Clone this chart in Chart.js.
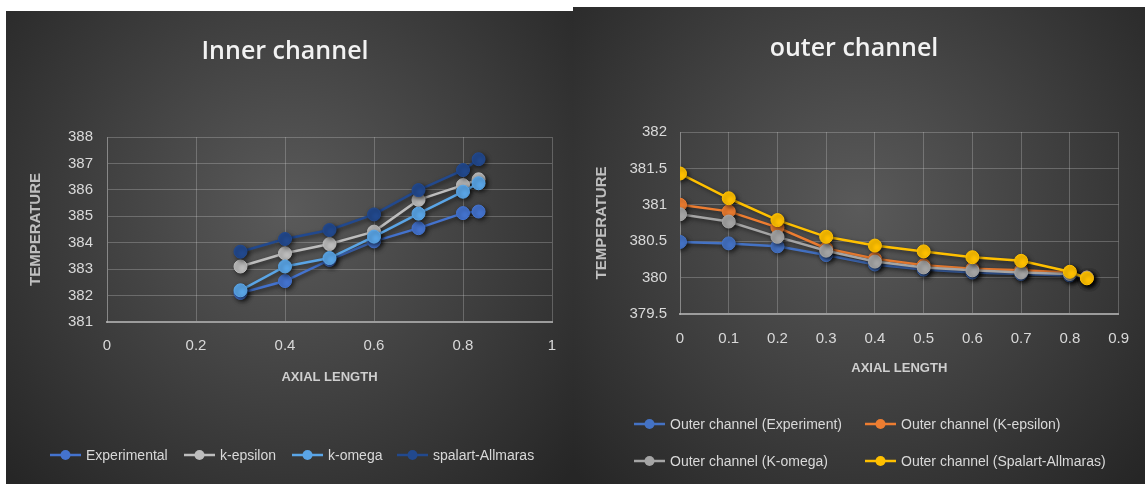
<!DOCTYPE html>
<html>
<head>
<meta charset="utf-8">
<script src="https://cdn.jsdelivr.net/npm/chart.js@4/dist/chart.umd.min.js"></script>
<style>
  body { margin: 0; background: #fff; width: 1145px; height: 484px; position: relative; overflow: hidden; }
  .panel { position: absolute; }
  #innerBox { left: 6px; top: 11px; width: 567px; height: 473px; }
  #outerBox { left: 573px; top: 7px; width: 572px; height: 477px; }
</style>
</head>
<body>
<div class="panel" id="innerBox"><canvas id="innerChart"></canvas></div>
<div class="panel" id="outerBox"><canvas id="outerChart"></canvas></div>
<script>
// inner channel
const innerX = [0.3, 0.4, 0.5, 0.6, 0.7, 0.8, 0.835];
const innerExperimental = [382.1, 382.55, 383.35, 384.05, 384.55, 385.12, 385.18];
const innerKEpsilon = [383.1, 383.6, 383.95, 384.42, 385.62, 386.18, 386.4];
const innerKOmega = [382.2, 383.1, 383.42, 384.23, 385.1, 385.93, 386.25];
const innerSpalart = [383.66, 384.14, 384.48, 385.07, 385.99, 386.75, 387.16];

// outer channel
const outerX = [0, 0.1, 0.2, 0.3, 0.4, 0.5, 0.6, 0.7, 0.8, 0.835];
const outerExperiment = [380.49, 380.47, 380.43, 380.31, 380.18, 380.11, 380.07, 380.05, 380.03, 380.0];
const outerKEpsilon = [381.0, 380.91, 380.69, 380.4, 380.26, 380.17, 380.12, 380.1, 380.07, 380.0];
const outerKOmega = [380.87, 380.77, 380.56, 380.37, 380.22, 380.14, 380.1, 380.07, 380.05, 380.0];
const outerSpalart = [381.43, 381.09, 380.79, 380.56, 380.44, 380.36, 380.28, 380.23, 380.08, 379.99];

const FONT = "'Liberation Sans', sans-serif";

function pts(xs, ys) {
  return xs.map((x, i) => ({ x: x, y: ys[i] }));
}

function makeSet(label, xs, ys, color, idx, total) {
  return {
    label: label,
    data: pts(xs, ys),
    borderColor: color,
    backgroundColor: color,
    borderWidth: 2.5,
    pointRadius: 6.5,
    pointBorderWidth: 1,
    pointBorderColor: color,
    order: total - idx, // later series on top, like the original
    tension: 0
  };
}

const bgPlugin = {
  id: 'bgGradient',
  beforeDraw(chart) {
    const { ctx, width, height } = chart;
    const g = ctx.createRadialGradient(width * 0.5, height * 0.42, 0, width * 0.5, height * 0.42, width * 0.68);
    g.addColorStop(0, '#5a5a5a');
    g.addColorStop(1, '#262626');
    ctx.save();
    ctx.fillStyle = g;
    ctx.fillRect(0, 0, width, height);
    ctx.restore();
  }
};

const shadowPlugin = {
  id: 'markShadow',
  beforeDatasetsDraw(chart) {
    const ctx = chart.ctx;
    ctx.save();
    ctx.shadowColor = 'rgba(0,0,0,0.55)';
    ctx.shadowBlur = 4;
    ctx.shadowOffsetX = 2;
    ctx.shadowOffsetY = 2;
  },
  afterDatasetsDraw(chart) {
    chart.ctx.restore();
  }
};

// excel-like legend: line + dot, fixed columns
const legendPlugin = {
  id: 'boxLegend',
  afterDraw(chart, args, opts) {
    const ctx = chart.ctx;
    ctx.save();
    ctx.font = opts.font;
    ctx.textBaseline = 'middle';
    chart.data.datasets.forEach((ds, i) => {
      const x = opts.cols[i % opts.cols.length];
      const y = opts.rows[Math.floor(i / opts.cols.length)];
      ctx.strokeStyle = ds.borderColor;
      ctx.lineWidth = 2.5;
      ctx.beginPath();
      ctx.moveTo(x, y);
      ctx.lineTo(x + 31, y);
      ctx.stroke();
      ctx.fillStyle = ds.borderColor;
      ctx.beginPath();
      ctx.arc(x + 15.5, y, 5, 0, Math.PI * 2);
      ctx.fill();
      ctx.fillStyle = opts.color;
      ctx.fillText(ds.label, x + 36, y + 1);
    });
    ctx.restore();
  }
};

function chartOptions(cfg) {
  return {
    responsive: true,
    maintainAspectRatio: false,
    animation: false,
    layout: { padding: { left: 12, right: cfg.padRight, top: 0, bottom: cfg.padBottom } },
    plugins: {
      legend: { display: false },
      tooltip: { enabled: false },
      title: {
        display: true,
        text: cfg.title,
        color: '#f2f2f2',
        font: { family: "'Open Sans', sans-serif", size: 25, weight: '600' },
        padding: { top: cfg.titleTop, bottom: cfg.titleBottom }
      },
      boxLegend: { cols: cfg.legendCols, rows: cfg.legendRows, color: '#d9d9d9', font: '14px ' + FONT }
    },
    scales: {
      x: {
        type: 'linear',
        min: cfg.xMin,
        max: cfg.xMax,
        afterFit: s => { s.height = cfg.xHeight; },
        ticks: { stepSize: cfg.xStep, color: '#d9d9d9', padding: cfg.xTickPad, font: { family: FONT, size: 15 }, callback: v => String(+v.toFixed(2)) },
        grid: { color: 'rgba(217,217,217,0.28)', drawTicks: false },
        border: { color: '#9c9c9c', width: 2 },
        title: { display: true, text: 'AXIAL LENGTH', color: '#cfcfcf', font: { family: FONT, size: 13, weight: 'bold' }, padding: { top: 0, bottom: 2 } }
      },
      y: {
        min: cfg.yMin,
        max: cfg.yMax,
        afterFit: s => { s.width = cfg.yWidth; },
        ticks: { stepSize: cfg.yStep, color: '#d9d9d9', padding: cfg.yTickPad, font: { family: FONT, size: 15 }, callback: v => String(+v.toFixed(2)) },
        grid: { color: 'rgba(217,217,217,0.28)', drawTicks: false },
        border: { color: 'rgba(217,217,217,0.28)' },
        title: { display: true, text: 'TEMPERATURE', color: '#bfbfbf', font: { family: FONT, size: 15, weight: 'bold' }, padding: { top: cfg.yTitlePad, bottom: 0 } }
      }
    }
  };
}

new Chart(document.getElementById('innerChart'), {
  type: 'line',
  data: {
    datasets: [
      makeSet('Experimental', innerX, innerExperimental, '#4473CE', 0, 4),
      makeSet('k-epsilon', innerX, innerKEpsilon, '#BDBDBD', 1, 4),
      makeSet('k-omega', innerX, innerKOmega, '#5AA5E6', 2, 4),
      makeSet('spalart-Allmaras', innerX, innerSpalart, '#22498E', 3, 4)
    ]
  },
  options: chartOptions({
    title: 'Inner channel', titleTop: 26, titleBottom: 70,
    padRight: 21, padBottom: 97,
    xMin: 0, xMax: 1, xStep: 0.2, xHeight: 65, xTickPad: 15,
    yMin: 381, yMax: 388, yStep: 1, yWidth: 89, yTickPad: 14, yTitlePad: 9,
    legendCols: [44, 178, 286, 391], legendRows: [444]
  }),
  plugins: [bgPlugin, shadowPlugin, legendPlugin]
});

new Chart(document.getElementById('outerChart'), {
  type: 'line',
  data: {
    datasets: [
      makeSet('Outer channel (Experiment)', outerX, outerExperiment, '#4472C4', 0, 4),
      makeSet('Outer channel (K-epsilon)', outerX, outerKEpsilon, '#ED7D31', 1, 4),
      makeSet('Outer channel (K-omega)', outerX, outerKOmega, '#A5A5A5', 2, 4),
      makeSet('Outer channel (Spalart-Allmaras)', outerX, outerSpalart, '#FFC000', 3, 4)
    ]
  },
  options: chartOptions({
    title: 'outer channel', titleTop: 27, titleBottom: 68,
    padRight: 22, padBottom: 106,
    xMin: 0, xMax: 0.9, xStep: 0.1, xHeight: 64, xTickPad: 16,
    yMin: 379.5, yMax: 382, yStep: 0.5, yWidth: 95, yTickPad: 13, yTitlePad: 8,
    legendCols: [61, 292], legendRows: [417, 454]
  }),
  plugins: [bgPlugin, shadowPlugin, legendPlugin]
});
</script>
</body>
</html>
